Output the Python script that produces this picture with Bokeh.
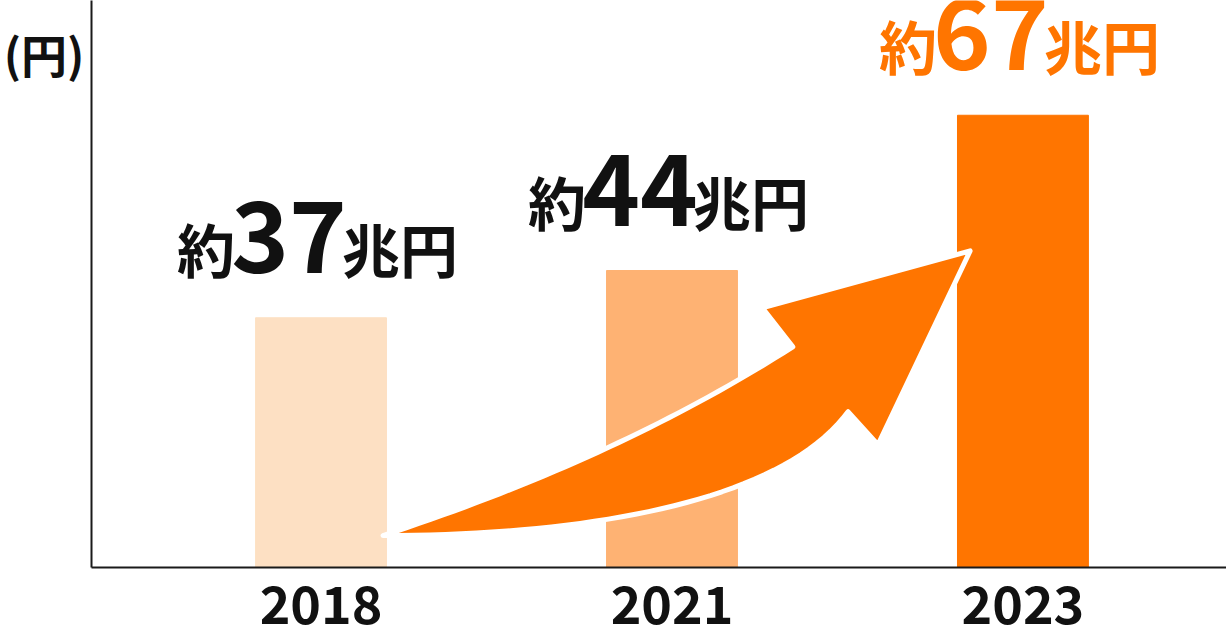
import numpy as np
from bokeh.plotting import figure
from bokeh.models import Range1d, FixedTicker, LabelSet, ColumnDataSource
from bokeh.core.properties import value, field
from bokeh.embed import file_html
from bokeh.resources import INLINE

# data
years = ["2018", "2021", "2023"]
amounts = [37, 44, 67]            # 兆円
bar_colors = ["#FDE0C3", "#FEB273", "#FF7500"]
label_colors = ["#111111", "#111111", "#FF7500"]
prefix = "約"
unit = "兆円"
y_unit_label = "(円)"

FONT = "Noto Sans CJK JP"
xs = [i + 0.5 for i in range(len(years))]
bar_w = 0.373
y_top = 84.0
unit_tick = 76.2   # where the (円) label sits on the y axis

p = figure(frame_width=1135, frame_height=567,
           x_range=Range1d(-0.154, 3.080), y_range=Range1d(0, y_top),
           output_backend="svg", toolbar_location=None,
           min_border_left=91, min_border_right=0, min_border_top=0, min_border_bottom=73)
p.grid.visible = False
p.outline_line_color = None

src = ColumnDataSource(dict(
    x=xs, top=amounts, color=bar_colors, tc=label_colors,
    num=[str(a) for a in amounts], pre=[prefix] * len(years), suf=[unit] * len(years)))

p.vbar(x="x", top="top", width=bar_w, color="color", source=src)

# curved arrow from the 2018 bar to the 2023 bar
tail = (xs[0] + bar_w / 2 - 0.01, amounts[0] * 0.128)
tip = (xs[2] - bar_w / 2 + 0.036, amounts[2] * 0.70)

t = np.linspace(0, 1, 40)
# upper edge (quadratic), normalized space
c = (0.40, 0.27); e = (0.698, 0.663)
ua = 2 * t * (1 - t) * c[0] + t ** 2 * e[0]
ub = 2 * t * (1 - t) * c[1] + t ** 2 * e[1]
head_a = [0.646, 1.0, 0.843, 0.792]
head_b = [0.800, 1.0, 0.319, 0.435]
# lower edge (cubic), walked back to the tail
p1 = (0.35, 0.0); p2 = (0.68, 0.12); p3 = (0.792, 0.435)
la = 3 * (1 - t) ** 2 * t * p1[0] + 3 * (1 - t) * t ** 2 * p2[0] + t ** 3 * p3[0]
lb = 3 * (1 - t) ** 2 * t * p1[1] + 3 * (1 - t) * t ** 2 * p2[1] + t ** 3 * p3[1]
na = np.concatenate([ua, head_a, la[::-1]])
nb = np.concatenate([ub, head_b, lb[::-1]])
ax = tail[0] + na * (tip[0] - tail[0])
ay = tail[1] + nb * (tip[1] - tail[1])
p.patch(ax, ay, fill_color="#FF7500", line_color="white", line_width=5, line_join="round")

# value labels: 約 + number + 兆円
p.add_layout(LabelSet(x="x", y="top", text="num", source=src, x_offset=-32, y_offset=45,
                      text_align="center", text_baseline="alphabetic",
                      text_font=value(FONT), text_font_style="bold", text_font_size="98px",
                      text_color=field("tc")))
p.add_layout(LabelSet(x="x", y="top", text="pre", source=src, x_offset=-86, y_offset=45,
                      text_align="right", text_baseline="alphabetic",
                      text_font=value(FONT), text_font_style="bold", text_font_size="58px",
                      text_color=field("tc")))
p.add_layout(LabelSet(x="x", y="top", text="suf", source=src, x_offset=21, y_offset=45,
                      text_align="left", text_baseline="alphabetic",
                      text_font=value(FONT), text_font_style="bold", text_font_size="58px",
                      text_color=field("tc")))

# axes
p.xaxis.ticker = FixedTicker(ticks=xs)
p.xaxis.major_label_overrides = {x: y for x, y in zip(xs, years)}
p.xaxis.major_tick_line_color = None
p.xaxis.major_tick_out = 0
p.xaxis.minor_tick_line_color = None
p.xaxis.axis_line_width = 2
p.xaxis.axis_line_color = "#1a1a1a"
p.xaxis.major_label_text_font = FONT
p.xaxis.major_label_text_font_style = "bold"
p.xaxis.major_label_text_font_size = "52px"
p.xaxis.major_label_text_color = "#111111"
p.xaxis.major_label_standoff = 17

p.yaxis.ticker = FixedTicker(ticks=[unit_tick])
p.yaxis.major_label_overrides = {unit_tick: y_unit_label}
p.yaxis.major_tick_line_color = None
p.yaxis.major_tick_out = 0
p.yaxis.minor_tick_line_color = None
p.yaxis.major_label_text_font = FONT
p.yaxis.major_label_text_font_style = "bold"
p.yaxis.major_label_text_font_size = "46px"
p.yaxis.major_label_text_color = "#111111"
p.yaxis.major_label_standoff = 7
p.yaxis.axis_line_width = 2
p.yaxis.axis_line_color = "#1a1a1a"

open("out.html", "w").write(file_html(p, INLINE))
